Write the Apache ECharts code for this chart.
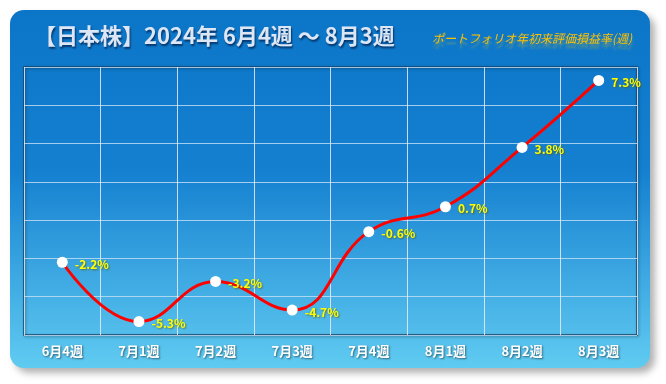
<!DOCTYPE html>
<html><head><meta charset="utf-8">
<script src="https://cdn.jsdelivr.net/npm/echarts@6/dist/echarts.min.js"></script>
<style>html,body{margin:0;padding:0;background:#fff}#c{width:666px;height:384px}</style>
</head><body><div id="c"></div>
<script>
var categories = ['6月4週','7月1週','7月2週','7月3週','7月4週','8月1週','8月2週','8月3週'];
var values = [-2.2, -5.3, -3.2, -4.7, -0.6, 0.7, 3.8, 7.3];
var yMin = -6, yMax = 8, yStep = 2;
var titleText = '【日本株】2024年 6月4週 ～ 8月3週';
var subtitleText = 'ポートフォリオ年初来評価損益率(週)';

var font = '"Noto Sans CJK JP", "Noto Sans", sans-serif';
var chart = echarts.init(document.getElementById('c'), null, {renderer:'canvas'});
chart.setOption({
  animation:false,
  backgroundColor:'#ffffff',
  graphic:[
    {type:'rect', z:-10, shape:{x:10,y:10,width:640,height:358,r:14},
     style:{fill:new echarts.graphic.LinearGradient(0,0,0,1,[
       {offset:0,color:'#0b76c8'},{offset:0.45,color:'#1580d0'},{offset:1,color:'#60cbf1'}]),
       shadowBlur:7, shadowOffsetX:5, shadowOffsetY:5, shadowColor:'rgba(0,0,0,0.3)'}},
    {type:'text', left:34, top:25, z:10,
     style:{text:titleText, font:'bold 22px '+font, fill:'#dde6f5',
       textShadowColor:'rgba(0,20,60,0.7)', textShadowBlur:2, textShadowOffsetX:1, textShadowOffsetY:2}},
    {type:'text', right:34, top:32, z:10,
     style:{text:subtitleText, font:'italic 12px '+font, fill:'#ffc000',
       textShadowColor:'rgba(255,200,0,0.35)', textShadowBlur:2, textShadowOffsetX:0, textShadowOffsetY:5}}
  ],
  grid:{left:24,right:29,top:67,bottom:49,show:true,borderColor:'#16466f',borderWidth:1.5,
        backgroundColor:'transparent', shadowColor:'rgba(0,0,0,0.4)', shadowBlur:3, shadowOffsetX:1, shadowOffsetY:1},
  xAxis:{type:'category',data:categories,boundaryGap:true,
    axisLine:{show:false},axisTick:{show:false},
    splitLine:{show:true,interval:0,lineStyle:{color:'rgba(235,235,245,0.85)',width:1}},
    axisLabel:{color:'#ffffff',fontWeight:'bold',fontSize:13,fontFamily:font,margin:10,interval:0,
      textShadowColor:'rgba(0,0,0,0.5)',textShadowBlur:2,textShadowOffsetX:1,textShadowOffsetY:1}},
  yAxis:{type:'value',min:yMin,max:yMax,interval:yStep,
    axisLine:{show:false},axisTick:{show:false},axisLabel:{show:false},
    splitLine:{show:true,lineStyle:{color:'rgba(200,225,245,0.8)',width:1}}},
  series:[{type:'line',data:values,smooth:0.45,
    lineStyle:{color:'#ff0000',width:3},
    symbol:'circle',symbolSize:11,itemStyle:{color:'#ffffff',borderWidth:0},
    label:{show:true,position:'right',distance:7,offset:[0,2],
      formatter:function(p){return p.value.toFixed(1)+'%';},
      color:'#ffff00',fontWeight:'bold',fontSize:12,fontFamily:font,
      textShadowColor:'rgba(90,80,0,0.7)',textShadowBlur:2,textShadowOffsetX:1,textShadowOffsetY:1}
  }]
});
</script></body></html>
